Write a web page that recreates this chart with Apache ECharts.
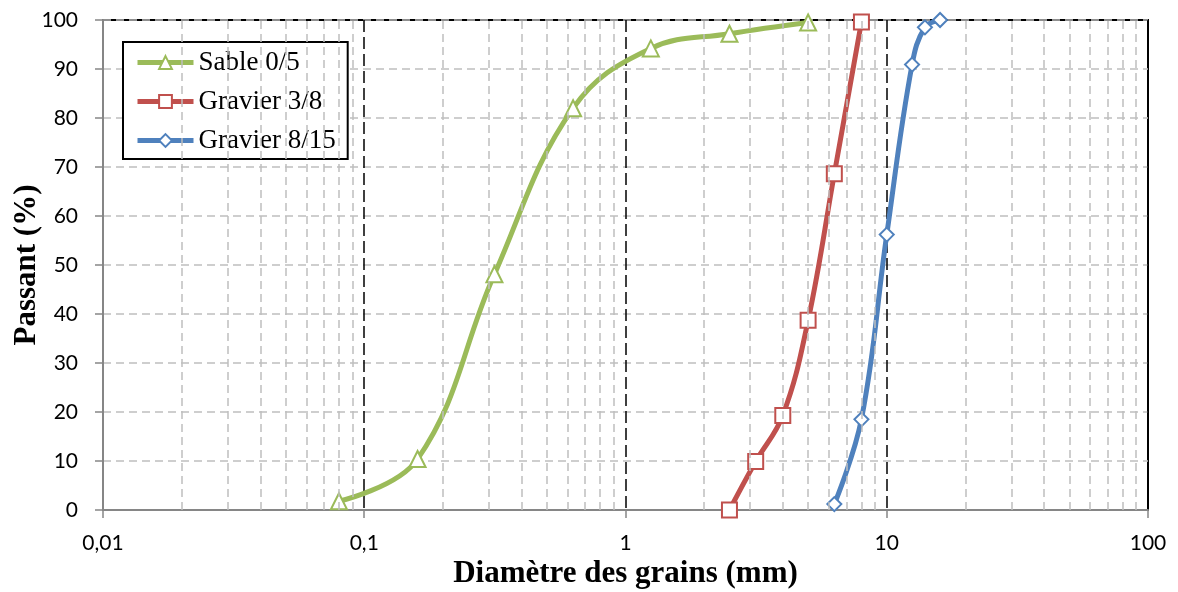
<!DOCTYPE html>
<html>
<head>
<meta charset="utf-8">
<script src="https://cdn.jsdelivr.net/npm/echarts@6/dist/echarts.min.js"></script>
<style>
  html, body { margin: 0; padding: 0; background: #fff; }
  #chart { width: 1178px; height: 592px; }
</style>
</head>
<body>
<div id="chart"></div>
<script>
// courbes granulométriques : [diamètre (mm), passant (%)]
var sable05 = [[0.08, 1.8], [0.16, 10.4], [0.315, 48.1], [0.63, 82], [1.25, 94.2], [2.5, 97.2], [5, 99.5]];
var gravier38 = [[2.5, 0], [3.15, 9.9], [4, 19.3], [5, 38.7], [6.3, 68.6], [8, 99.6]];
var gravier815 = [[6.3, 1.2], [8, 18.5], [10, 56.2], [12.5, 90.9], [14, 98.5], [16, 100]];
var seriesNames = ['Sable 0/5', 'Gravier 3/8', 'Gravier 8/15'];
var xTicks = [0.01, 0.1, 1, 10, 100];

// lignes de grille secondaires (2..9 dans chaque décade)
var minorLines = [];
for (var d = 0; d < xTicks.length - 1; d++) {
  for (var k = 2; k <= 9; k++) {
    minorLines.push({ xAxis: xTicks[d] * k });
  }
}

var labelFont = 'Lato';
var serif = 'Liberation Serif';

function curve(name, data, color, symbol, size) {
  return {
    name: name,
    type: 'line',
    data: data,
    smooth: 0.4,
    symbol: symbol,
    symbolSize: size,
    z: 3,
    lineStyle: { color: color, width: 5 },
    itemStyle: { color: '#fff', borderColor: color, borderWidth: 2 },
    emphasis: { disabled: true }
  };
}

var option = {
  animation: false,
  grid: {
    left: 103, right: 30, top: 20, bottom: 82,
    outerBoundsMode: 'none',
    containLabel: false,
    show: true, borderColor: '#000', borderWidth: 2, backgroundColor: '#fff'
  },
  legend: {
    data: seriesNames,
    orient: 'vertical',
    left: 123, top: 42,
    padding: [7, 12, 5, 12],
    itemWidth: 56, itemHeight: 16,
    itemGap: 12,
    backgroundColor: '#fff',
    borderColor: '#000', borderWidth: 2,
    lineStyle: { width: 5 },
    textStyle: { fontFamily: serif, fontSize: 27, color: '#000' }
  },
  xAxis: {
    type: 'log',
    logBase: 10,
    min: 0.01, max: 100,
    name: 'Diamètre des grains (mm)',
    nameLocation: 'middle',
    nameGap: 47,
    nameTextStyle: { fontFamily: serif, fontSize: 31, fontWeight: 'bold', color: '#000' },
    axisLine: { lineStyle: { color: '#868686', width: 2 } },
    axisTick: { show: true, length: 8, lineStyle: { color: '#868686', width: 1.5 } },
    axisLabel: {
      margin: 23,
      fontFamily: labelFont, fontSize: 21, color: '#000',
      formatter: function (v) { return String(v).replace('.', ','); }
    },
    splitLine: { show: true, lineStyle: { color: '#000', width: 1.5, type: [12, 5] } }
  },
  yAxis: {
    type: 'value',
    min: 0, max: 100, interval: 10,
    name: 'Passant (%)',
    nameLocation: 'middle',
    nameGap: 61,
    nameMoveOverlap: false,
    nameTextStyle: { fontFamily: serif, fontSize: 31, fontWeight: 'bold', color: '#000' },
    axisLine: { show: true, lineStyle: { color: '#868686', width: 2 } },
    axisTick: { show: true, length: 8, lineStyle: { color: '#868686', width: 1.5 } },
    axisLabel: { margin: 25, fontFamily: labelFont, fontSize: 21, color: '#000' },
    splitLine: { show: true, lineStyle: { color: '#bfbfbf', width: 1.5, type: [8, 5] } }
  },
  series: [
    {
      name: 'grille',
      type: 'line',
      data: [],
      silent: true,
      z: 1,
      markLine: {
        silent: true,
        symbol: 'none',
        label: { show: false },
        lineStyle: { color: '#bfbfbf', width: 1.5, type: [8, 5] },
        emphasis: { disabled: true },
        data: minorLines
      }
    },
    curve(seriesNames[0], sable05, '#9bbb59', 'triangle', 16),
    curve(seriesNames[1], gravier38, '#c0504d', 'rect', 15),
    curve(seriesNames[2], gravier815, '#4f81bd', 'diamond', 14)
  ]
};

var myChart = echarts.init(document.getElementById('chart'));
myChart.setOption(option);
</script>
</body>
</html>
